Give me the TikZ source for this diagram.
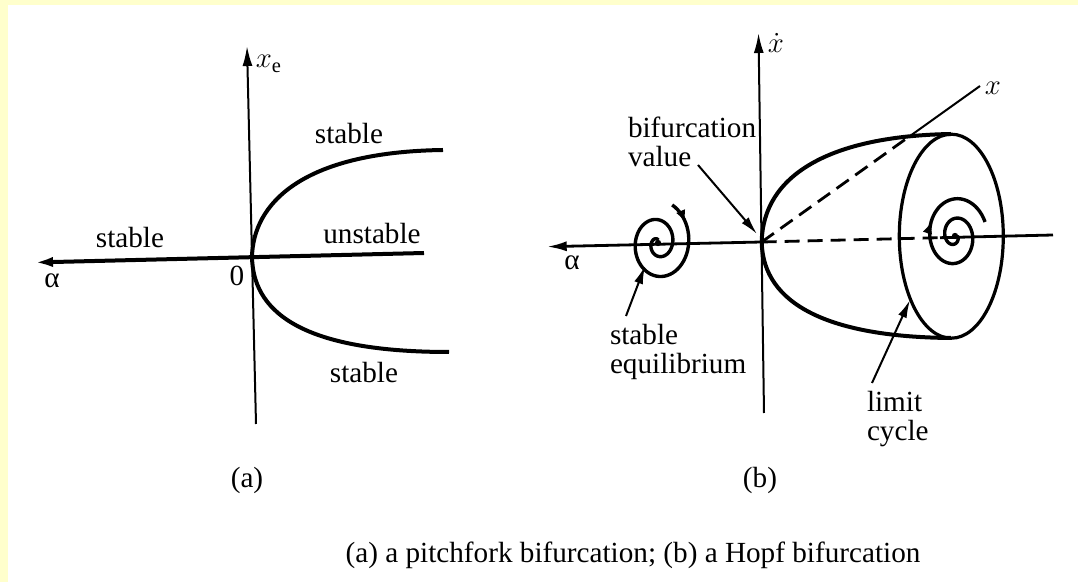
\documentclass[tikz,border=0pt]{standalone}
\usepackage{fontspec}
\setmainfont{Liberation Serif}
\usetikzlibrary{arrows.meta,calc,decorations.markings}
\definecolor{pagecream}{RGB}{255,255,204}

\begin{document}
\begin{tikzpicture}[x=0.5pt,y=-0.5pt,line width=1pt,>={Latex[length=10pt,width=5pt]},
  every node/.style={font=\fontsize{14.6}{14.5}\selectfont,inner sep=0pt}]
\tikzset{thinax/.style={line width=1pt},
  midax/.style={line width=1.4pt},
  branch/.style={line width=2pt},
  cyc/.style={line width=1.6pt},
  dashax/.style={line width=1.4pt,dash pattern=on 7.5pt off 4pt},
  pointer/.style={line width=1pt,-{Latex[length=9pt,width=4.5pt]}},
  spiralin/.style={line width=1.7pt,postaction={decorate},
    decoration={markings,mark=at position -11pt with {\arrowreversed{Latex[length=6pt,width=5pt]}}}},
  spiralout/.style={line width=1.7pt,postaction={decorate},
    decoration={markings,mark=at position -38pt with {\arrow{Latex[length=6pt,width=5pt]}}}}}
% ---------- background ----------
\useasboundingbox (0,0) rectangle (1078,582);
\fill[pagecream] (0,0) rectangle (1078,582);
\fill[white] (8,5) rectangle (1078,582);
% ---------- (a) pitchfork ----------
\coordinate (Oa) at (252,257);
\coordinate (aL) at (33,262.5);  \coordinate (aR) at (424,253);
\coordinate (aB) at (256,424);   \coordinate (aT) at (247,46);
\coordinate (upA) at (443,150);  \coordinate (loA) at (449,352);
\draw[thinax,->] (aB) -- (aT);
\draw[branch,->] (aR) -- (aL);
\draw[branch] (Oa) .. controls (253,205) and (300,152) .. (upA);
\draw[branch] (Oa) .. controls (253,308) and (295,352) .. (loA);
\node (xe) at (269,64) {$x_{\mathrm{e}}$};
\node (stU) at (349,134) {stable};
\node (unst) at (372,234) {unstable};
\node (stL) at (130,238) {stable};
\node (stD) at (364,373) {stable};
\node (alA) at (52,281) {α};
\node (zero) at (237,276) {0};
\node (capA) at (247,480) {(a)};
% ---------- (b) Hopf ----------
\coordinate (Ob) at (761.7,242);
\coordinate (bL) at (546.7,246.7); \coordinate (bR) at (1053,235);
\coordinate (bB) at (764,413);     \coordinate (bT) at (758.5,33);
\coordinate (bD) at (940,237.7);   \coordinate (bX) at (980,86);
\coordinate (bK) at ($(Ob)!0.688!(bX)$);
\coordinate (topC) at (951,134);   \coordinate (botC) at (951,338);
\draw[thinax,->] (bB) -- (bT);
\draw[midax,->] (Ob) -- (bL);
\draw[dashax] (Ob) -- (bD);
\draw[midax] (bD) -- (bR);
\draw[dashax] (Ob) -- (bK);
\draw[thinax] (bK) -- (bX);
\draw[branch] (Ob) .. controls (763,175) and (830,136) .. (topC);
\draw[branch] (Ob) .. controls (763,305) and (830,337) .. (botC);
\draw[cyc] (951.3,236.2) ellipse [x radius=26pt,y radius=51pt];
% spirals: stable focus on the left, unstable one inside the cycle
\draw[spiralin] plot[domain=0:700,samples=120]
  ({658+0.8*(3+39*(\x/700))*cos(995-\x)},{243+(3+39*(\x/700))*sin(995-\x)});
\draw[spiralout] plot[domain=0:700,samples=120]
  ({955+0.8*(3+37*(\x/700))*cos(\x)},{236+(3+38*(\x/700))*sin(\x)});
\fill (658,243) circle (1.6pt);
\fill (955,236) circle (1.6pt);
\node (xdot) at (776,43) {$\dot{x}$};
\node (xb) at (993,88) {$x$};
\node (alB) at (572,263) {α};
\node[align=left,anchor=west] (bifv) at (627,142) {bifurcation\\value};
\node[align=left,anchor=west] (steq) at (609,352) {stable\\equilibrium};
\node[align=left,anchor=west] (lcyc) at (866,419) {limit\\cycle};
\coordinate (bvS) at (698,165);  \coordinate (bvE) at (757,234);
\coordinate (seS) at (626,316);  \coordinate (seE) at (645,266);
\coordinate (lcS) at (872,383);  \coordinate (lcE) at (910,300);
\draw[pointer] (bvS) -- (bvE);
\draw[pointer] (seS) -- (seE);
\draw[pointer] (lcS) -- (lcE);
\node (capB) at (760,480) {(b)};
\node (capt) at (633,555) {(a) a pitchfork bifurcation; (b) a Hopf bifurcation};
\end{tikzpicture}
\end{document}
